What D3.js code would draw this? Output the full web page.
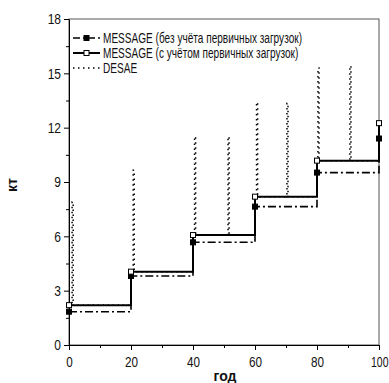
<!DOCTYPE html>
<html>
<head>
<meta charset="utf-8">
<script src="https://cdn.jsdelivr.net/npm/d3@7"></script>
<style>
  body { margin: 0; background: #fff; }
  svg { display: block; }
  text { font-family: "Liberation Sans", Arial, sans-serif; fill: #111; }
</style>
</head>
<body>
<div id="chart"></div>
<script>
// data
var years = [0, 20, 40, 60, 80, 100];
var messageNoLoad = [1.84, 3.81, 5.67, 7.64, 9.52, 11.4];
var messageLoad = [2.2, 4.05, 6.07, 8.19, 10.18, 12.25];
var desaeYears = [1, 20.7, 40.5, 51.3, 60.5, 70.3, 80.3, 90.6];
var desaePeaks = [7.9, 9.65, 11.5, 11.5, 13.4, 13.35, 15.3, 15.4];
var xTicks = [0, 20, 40, 60, 80, 100];
var yTicks = [0, 3, 6, 9, 12, 15, 18];
var legendLabels = [
  "MESSAGE (без учёта первичных загрузок)",
  "MESSAGE (с учётом первичных загрузок)",
  "DESAE"
];

var width = 389, height = 383;
var svg = d3.select("#chart").append("svg")
  .attr("width", width)
  .attr("height", height);

var x = d3.scaleLinear().domain([0, 100]).range([69, 379]);
var y = d3.scaleLinear().domain([0, 18]).range([345, 19]);

// squeeze text a bit, the original font is narrow
function squeeze(sel, k) {
  sel.each(function() {
    var w = this.getComputedTextLength();
    d3.select(this).attr("textLength", w * k).attr("lengthAdjust", "spacingAndGlyphs");
  });
}

// frame
svg.append("rect")
  .attr("x", x(0)).attr("y", y(18))
  .attr("width", x(100) - x(0)).attr("height", y(0) - y(18))
  .attr("fill", "none").attr("stroke", "#555").attr("stroke-width", 1);

// minor ticks
svg.append("g")
  .attr("transform", "translate(" + x(0) + ",0)")
  .call(d3.axisLeft(y).tickValues(d3.range(1.5, 18, 3)).tickSize(3).tickFormat(""))
  .call(function(g) { g.select(".domain").remove(); });
svg.append("g")
  .attr("transform", "translate(0," + y(0) + ")")
  .call(d3.axisBottom(x).tickValues(d3.range(10, 100, 20)).tickSize(3).tickFormat(""))
  .call(function(g) { g.select(".domain").remove(); });

// axes
var yAxis = svg.append("g")
  .attr("transform", "translate(" + x(0) + ",0)")
  .call(d3.axisLeft(y).tickValues(yTicks).tickSize(5).tickSizeOuter(0).tickPadding(3));
var xAxis = svg.append("g")
  .attr("transform", "translate(0," + y(0) + ")")
  .call(d3.axisBottom(x).tickValues(xTicks).tickSize(5).tickSizeOuter(0).tickPadding(6));

svg.selectAll(".tick text").attr("font-size", 15).attr("fill", "#222");
svg.selectAll(".domain, .tick line").attr("stroke", "#000");
squeeze(yAxis.selectAll("text"), 0.8);
squeeze(xAxis.selectAll("text").filter(function(d) { return d < 100; }), 0.78);
// last label sits right at the edge, keep it inside
var lastLabel = xAxis.selectAll("text").filter(function(d) { return d === 100; })
  .attr("text-anchor", "end").attr("x", 9);
squeeze(lastLabel, 0.7);

// axis titles
svg.append("text")
  .attr("transform", "translate(17,185) rotate(-90)")
  .attr("text-anchor", "middle")
  .attr("font-size", 14).attr("font-weight", "bold")
  .text("кт");
svg.append("text")
  .attr("x", 225).attr("y", 381)
  .attr("text-anchor", "middle")
  .attr("font-size", 14).attr("font-weight", "bold")
  .text("год");

// DESAE: follows the step and spikes up at refuelling years
function levelAt(t) {
  var v = messageLoad[0];
  years.forEach(function(yr, i) { if (t >= yr) v = messageLoad[i]; });
  return v;
}
var desaePts = years.slice(0, -1).map(function(yr, i) { return [yr, messageLoad[i]]; });
desaeYears.forEach(function(t, i) {
  desaePts.push([t, desaePeaks[i]]);
  desaePts.push([t + 0.35, levelAt(t)]);
});
desaePts.push([100, levelAt(99.9)]);
desaePts.sort(function(a, b) { return a[0] - b[0]; });

var stepLine = d3.line()
  .x(function(d) { return x(d[0]); })
  .y(function(d) { return y(d[1]); })
  .curve(d3.curveStepAfter);

svg.append("path")
  .datum(desaePts)
  .attr("d", stepLine)
  .attr("fill", "none").attr("stroke", "#000")
  .attr("stroke-width", 1.5).attr("stroke-dasharray", "1.5,3.5");

var series = [
  { values: messageNoLoad, dash: "8,3,2,3", width: 1.6, fill: "#000" },
  { values: messageLoad, dash: null, width: 2, fill: "#fff" }
];

series.forEach(function(s) {
  var pts = years.map(function(yr, i) { return [yr, s.values[i]]; });
  svg.append("path")
    .datum(pts)
    .attr("d", stepLine)
    .attr("fill", "none").attr("stroke", "#000")
    .attr("stroke-width", s.width)
    .attr("stroke-dasharray", s.dash);
  svg.selectAll(null)
    .data(pts)
    .enter().append("rect")
    .attr("x", function(d) { return x(d[0]) - 2.5; })
    .attr("y", function(d) { return y(d[1]) - 2.5; })
    .attr("width", 5).attr("height", 5)
    .attr("fill", s.fill).attr("stroke", "#000").attr("stroke-width", 1);
});

// legend
var legendRows = [38, 53, 68];
var leg = svg.append("g");
var legendK = null;
legendLabels.forEach(function(label, i) {
  var ly = legendRows[i];
  if (i < 2) {
    leg.append("line")
      .attr("x1", 73).attr("x2", 100).attr("y1", ly).attr("y2", ly)
      .attr("stroke", "#000")
      .attr("stroke-width", series[i].width)
      .attr("stroke-dasharray", series[i].dash ? "7,3,2,3" : null);
    leg.append("rect")
      .attr("x", 84).attr("y", ly - 2.5).attr("width", 5).attr("height", 5)
      .attr("fill", series[i].fill).attr("stroke", "#000");
  } else {
    leg.append("line")
      .attr("x1", 73).attr("x2", 100).attr("y1", ly).attr("y2", ly)
      .attr("stroke", "#000").attr("stroke-width", 1.5)
      .attr("stroke-dasharray", "1.5,3.5");
  }
  var t = leg.append("text")
    .attr("x", 103).attr("y", ly + 5)
    .attr("font-size", 14)
    .text(label);
  // first row sets the compression so it spans ~199px as in the original
  if (legendK === null) legendK = 199 / t.node().getComputedTextLength();
  squeeze(t, legendK);
});
</script>
</body>
</html>
